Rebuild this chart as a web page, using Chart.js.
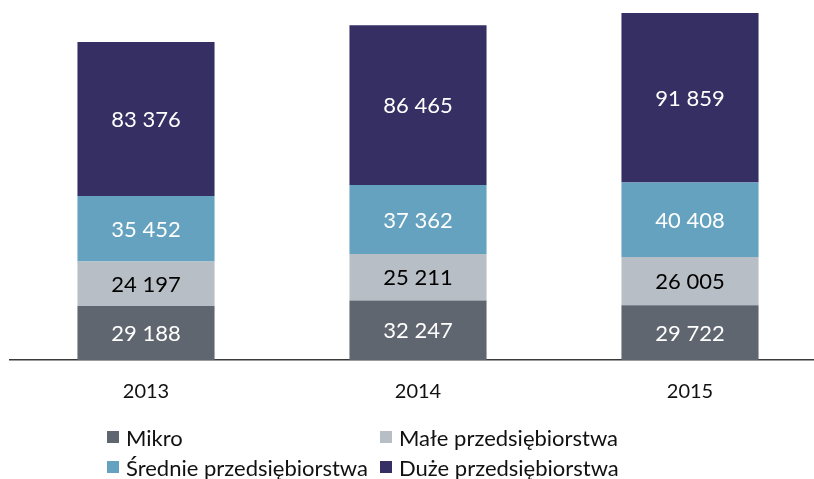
<!DOCTYPE html>
<html>
<head>
<meta charset="utf-8">
<script src="https://cdn.jsdelivr.net/npm/chart.js@4/dist/chart.umd.min.js"></script>
<style>
  html, body { margin: 0; padding: 0; background: #fff; overflow: hidden; }
  #wrap { position: relative; width: 814px; height: 479px; overflow: hidden; }
  #wrap canvas { position: absolute; left: 0; top: 0; }
  #legenda {
    position: absolute; left: 107px; top: 424px;
    display: grid; grid-template-columns: 273px 300px; row-gap: 4px;
    font-family: Lato, "Open Sans", sans-serif; font-size: 22px; color: #111;
  }
  #legenda div { display: flex; align-items: center; height: 26px; }
  #legenda span.kw { width: 12px; height: 12px; margin-right: 7px; display: inline-block; }
</style>
</head>
<body>
<div id="wrap">
  <canvas id="wykres" width="830" height="479" style="width:830px;height:479px"></canvas>
  <div id="legenda"></div>
</div>
<script>
const lata = ["2013", "2014", "2015"];
const mikro = [29188, 32247, 29722];
const male = [24197, 25211, 26005];
const srednie = [35452, 37362, 40408];
const duze = [83376, 86465, 91859];

const serie = [
  { label: "Mikro", data: mikro, color: "#5f666f", text: "#ffffff" },
  { label: "Małe przedsiębiorstwa", data: male, color: "#b8bec5", text: "#000000" },
  { label: "Średnie przedsiębiorstwa", data: srednie, color: "#65a2bf", text: "#ffffff" },
  { label: "Duże przedsiębiorstwa", data: duze, color: "#362f63", text: "#ffffff" }
];

function formatuj(v) {
  return String(v).replace(/\B(?=(\d{3})+(?!\d))/g, " ");
}

// etykiety wartości w środku słupków
const etykiety = {
  id: "etykiety",
  afterDatasetsDraw(chart) {
    const ctx = chart.ctx;
    ctx.save();
    ctx.font = "22px Lato, 'Open Sans', sans-serif";
    ctx.textAlign = "center";
    ctx.textBaseline = "middle";
    chart.data.datasets.forEach((ds, i) => {
      const meta = chart.getDatasetMeta(i);
      meta.data.forEach((bar, j) => {
        const p = bar.getProps(["x", "y", "base"], true);
        ctx.fillStyle = serie[i].text;
        ctx.fillText(formatuj(ds.data[j]), p.x, (p.y + p.base) / 2 + 1);
      });
    });
    ctx.restore();
  }
};

new Chart(document.getElementById("wykres"), {
  type: "bar",
  data: {
    labels: lata,
    datasets: serie.map(s => ({
      label: s.label,
      data: s.data,
      backgroundColor: s.color,
      borderWidth: 0,
      categoryPercentage: 1,
      barPercentage: 0.504
    }))
  },
  options: {
    responsive: false,
    animation: false,
    layout: { padding: { left: 10, right: 4, top: 0, bottom: 63 } },
    plugins: {
      legend: { display: false },
      tooltip: { enabled: false }
    },
    scales: {
      x: {
        stacked: true,
        grid: { display: false },
        border: { display: true, color: "#3a3a3a", width: 1.5 },
        ticks: {
          color: "#111",
          padding: 12,
          font: { family: "Lato, 'Open Sans', sans-serif", size: 20 }
        }
      },
      y: {
        stacked: true,
        display: false,
        min: 0,
        max: 195000
      }
    }
  },
  plugins: [etykiety]
});

const leg = document.getElementById("legenda");
[0, 1, 2, 3].forEach(i => {
  const d = document.createElement("div");
  const k = document.createElement("span");
  k.className = "kw";
  k.style.background = serie[i].color;
  d.appendChild(k);
  d.appendChild(document.createTextNode(serie[i].label));
  leg.appendChild(d);
});
</script>
</body>
</html>
